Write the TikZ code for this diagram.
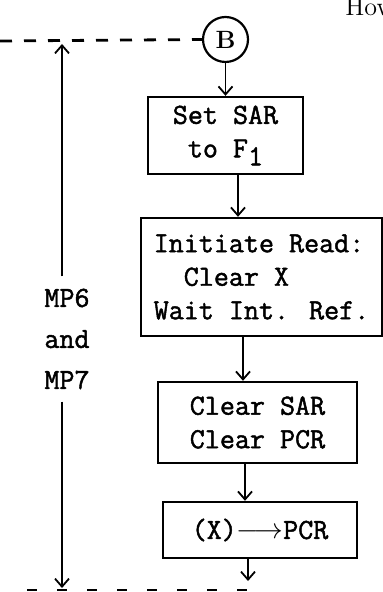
\documentclass[tikz,border=0pt]{standalone}
\usepackage{fontspec}
\newfontfamily\typew{Latin Modern Mono}[FakeBold=1.6]
\usetikzlibrary{arrows.meta}

\begin{document}
\begin{tikzpicture}[x=0.5pt,y=-0.5pt,
    blk/.style={draw,line width=1.2pt,inner sep=0pt,align=center,
        font=\typew\fontsize{14.6}{16.75}\selectfont},
    flow/.style={line width=0.9pt,-{Straight Barb[length=4pt,width=7pt]}},
    dashln/.style={line width=1.4pt,dash pattern=on 6pt off 6pt}]
    \useasboundingbox (0,0) rectangle (383,592);

    \node[anchor=base west,inner sep=0pt,font=\fontsize{13}{15}\selectfont] (how) at (345,15.5) {How};

    \node[draw,circle,line width=1.1pt,minimum size=22.5pt,inner sep=0pt,
        font=\fontsize{12.5}{14}\selectfont\bfseries] (b) at (225.5,39.5) {B};
    \node[blk,minimum width=77.5pt,minimum height=38.5pt] (set) at (225.5,135.5)
        {Set SAR\\to F\raisebox{-4pt}{1}};
    \node[blk,align=left,minimum width=120.5pt,minimum height=59pt] (init) at (261.5,277)
        {Initiate Read:\\\hphantom{Cl}Clear X\\Wait Int. Ref.};
    \node[blk,minimum width=99.5pt,minimum height=40.5pt] (clr) at (257.5,422.5)
        {Clear SAR\\Clear PCR};
    \node[blk,minimum width=97pt,minimum height=28pt] (mv) at (260,530)
        {(X)$\longrightarrow$PCR};

    \draw[flow] (b) -- (set);
    \draw[flow] ([xshift=6.25pt]set.south) -- ([xshift=6.25pt]set.south |- init.north);
    \draw[flow] ([xshift=-9.25pt]init.south) -- ([xshift=-9.25pt]init.south |- clr.north);
    \draw[flow] ([xshift=-6.25pt]clr.south) -- ([xshift=-6.25pt]clr.south |- mv.north);
    \coordinate (exit) at (248,581);
    \draw[flow] (mv.south -| exit) -- (exit);

    % dashed limits
    \coordinate (tl) at (0,41);
    \coordinate (bl) at (27,590);
    \coordinate (br) at (250,590);
    \draw[dashln] (tl) -- (b.west);
    \draw[dashln,dash pattern=on 5pt off 10pt] (bl) -- (br);

    % span of the two micro-programs
    \node[align=center,inner sep=6pt,font=\typew\fontsize{14.6}{20.5}\selectfont] (mp) at (67,339)
        {MP6\\and\\MP7};
    \coordinate (up) at (62,44);
    \coordinate (dn) at (62,588);
    \draw[flow] (mp.north -| up) -- (up);
    \draw[flow] (mp.south -| dn) -- (dn);
\end{tikzpicture}
\end{document}
